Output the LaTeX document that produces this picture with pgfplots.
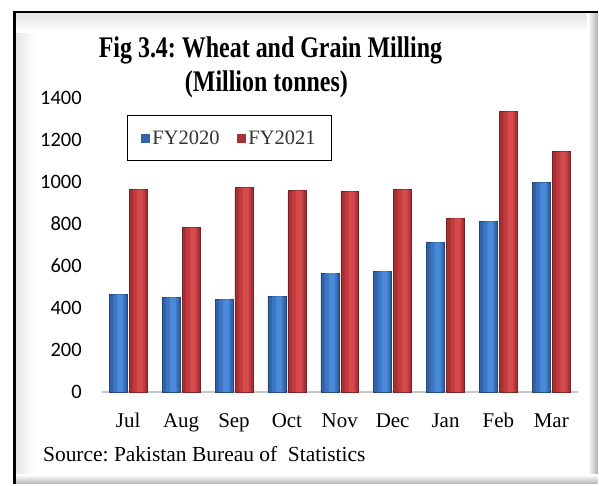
\documentclass[border=0pt]{standalone}
\usepackage{pgfplots}
\pgfplotsset{compat=1.18}
\usepackage{fontspec}
\setmainfont{Liberation Serif}
\newfontfamily\carlito{Carlito}

\definecolor{blueA}{HTML}{3262A8}
\definecolor{blueB}{HTML}{3B76C4}
\definecolor{blueC}{HTML}{4A8AD8}
\definecolor{redA}{HTML}{A63034}
\definecolor{redB}{HTML}{C23A3D}
\definecolor{redC}{HTML}{D44A4D}

% monthly values
\pgfplotstableread{
x  fy20  fy21
0  465   963
1  451   783
2  441   973
3  456   959
4  566   954
5  574   963
6  712   826
7  812   1334
8  997   1144
}\milling

\begin{document}
\frenchspacing
\begin{tikzpicture}
% page and frame (picture measured in pixels, 1px = 1bp)
\fill[white] (0,0) rectangle (599bp,485bp);
\shade[left color=black!10, right color=white] (15bp,0) rectangle (35bp,472bp);
\shade[top color=black!10, bottom color=white] (15bp,452bp) rectangle (599bp,472bp);
\shade[left color=white, right color=black!30] (589bp,0) rectangle (599bp,472bp);
\shade[top color=white, bottom color=black!30] (15bp,0) rectangle (599bp,9bp);
\draw[line width=2.6bp] (14.5bp,0) -- (14.5bp,473bp) -- (599bp,473bp);

\node[font=\fontsize{24bp}{28bp}\selectfont\bfseries, anchor=base] at (271bp,427bp) {\scalebox{1}[1.25]{Fig 3.4: Wheat and Grain Milling}};
\node[font=\fontsize{24bp}{28bp}\selectfont\bfseries, anchor=base] at (267bp,393bp) {\scalebox{1}[1.25]{(Million tonnes)}};

\begin{axis}[
  at={(102bp,92bp)}, anchor=south west,
  scale only axis, width=477bp, height=295bp,
  xmin=-0.5, xmax=8.5, ymin=0, ymax=1400,
  axis y line*=left, axis x line*=bottom,
  y axis line style={draw=none},
  x axis line style={-, draw=black!22, line width=2bp},
  major tick length=0pt,
  xtick={0,...,8},
  xticklabels={Jul,Aug,Sep,Oct,Nov,Dec,Jan,Feb,Mar},
  xticklabel style={font=\fontsize{21bp}{25bp}\selectfont, anchor=base, inner sep=0pt, yshift=-35bp},
  ytick={0,200,...,1400},
  yticklabel style={font=\fontsize{20.5bp}{24bp}\selectfont\carlito, anchor=east, inner sep=0pt, xshift=-20bp},
  /pgf/number format/assume math mode=true,
  /pgf/number format/1000 sep={},
  ybar,
  legend columns=2,
  legend image code/.code={\path[#1, draw=none] (0bp,-4.5bp) rectangle (9bp,4.5bp);},
  legend style={at={(0.0524,0.942)}, anchor=north west, draw=black, line width=1.6bp,
    font=\fontsize{20.5bp}{24bp}\selectfont\color{black!80},
    inner xsep=14bp, inner ysep=13bp, nodes={inner sep=2bp},
    /tikz/every even column/.append style={column sep=16bp}},
]
% each series is drawn in three layers (dark edge, mid, light centre) for the rounded look
\addplot[bar width=18bp, bar shift=-10bp, draw=blueA!70!black, line width=0.5bp, fill=blueA]
  table[x=x, y=fy20] {\milling};
\addplot[bar width=18bp, bar shift=10bp, draw=redA!70!black, line width=0.5bp, fill=redA]
  table[x=x, y=fy21] {\milling};
\addplot[bar width=12bp, bar shift=-9bp, draw=none, fill=blueB, forget plot]
  table[x=x, y=fy20] {\milling};
\addplot[bar width=6bp, bar shift=-8bp, draw=none, fill=blueC, forget plot]
  table[x=x, y=fy20] {\milling};
\addplot[bar width=12bp, bar shift=11bp, draw=none, fill=redB, forget plot]
  table[x=x, y=fy21] {\milling};
\addplot[bar width=6bp, bar shift=12bp, draw=none, fill=redC, forget plot]
  table[x=x, y=fy21] {\milling};
\legend{FY2020, FY2021}
\end{axis}

\node[font=\fontsize{21.5bp}{25bp}\selectfont, anchor=base west, inner sep=0pt] at (43bp,22bp) {Source: Pakistan Bureau of \ Statistics};
\end{tikzpicture}
\end{document}
